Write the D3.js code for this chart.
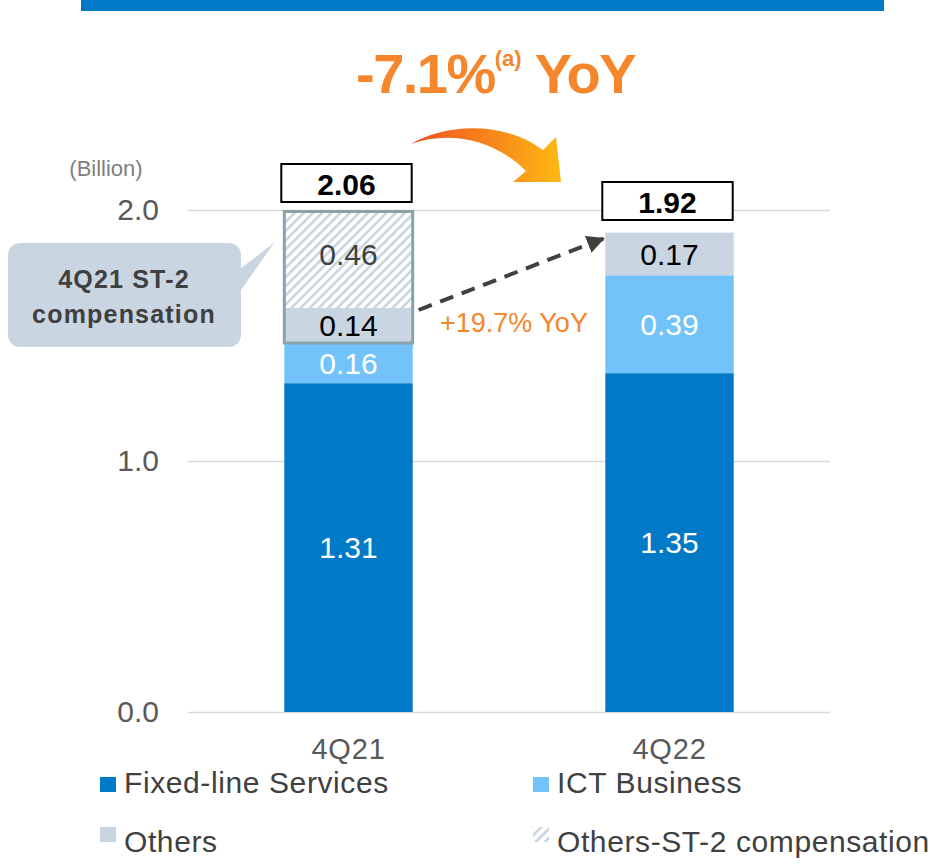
<!DOCTYPE html>
<html>
<head>
<meta charset="utf-8">
<script src="https://cdn.jsdelivr.net/npm/d3@7"></script>
<style>
  body { margin: 0; background: #fff; }
  svg { display: block; }
</style>
</head>
<body>
<div id="chart-area"></div>
<script>
// data
var categories = ["4Q21", "4Q22"]
var fixedLine = [1.31, 1.35]
var ictBusiness = [0.16, 0.39]
var others = [0.14, 0.17]
var othersST2 = [0.46, 0]
var totals = [2.06, 1.92]
var yTicks = [0, 1, 2]
var seriesKeys = ["fixed", "ict", "others", "st2"]
var legendNames = ["Fixed-line Services", "ICT Business", "Others", "Others-ST-2 compensation"]

var font = "'Liberation Sans',Arial,sans-serif"

var colors = {fixed: "#0079c6", ict: "#73c3fb", others: "#c9d5e0", st2: "url(#hatch)"}
var labelColors = {fixed: "#ffffff", ict: "#ffffff", others: "#000000", st2: "#404040"}

var W = 938, H = 864

var svg = d3.select('#chart-area').append('svg')
  .attr('width', W)
  .attr('height', H)
  .attr('font-family', font)

var defs = svg.append('defs')

// hatch for the ST-2 compensation block
var pat = defs.append('pattern')
  .attr('id', 'hatch')
  .attr('patternUnits', 'userSpaceOnUse')
  .attr('width', 6.5)
  .attr('height', 6.5)
  .attr('patternTransform', 'rotate(45)')
pat.append('rect').attr('width', 6.5).attr('height', 6.5).attr('fill', '#ffffff')
pat.append('rect').attr('width', 2.6).attr('height', 6.5).attr('fill', '#c9d5e0')

var grad = defs.append('linearGradient').attr('id', 'arrowGrad')
  .attr('x1', '0%').attr('x2', '100%').attr('y1', '0%').attr('y2', '0%')
grad.append('stop').attr('offset', '0%').attr('stop-color', '#f04e23')
grad.append('stop').attr('offset', '100%').attr('stop-color', '#fdb913')

defs.append('marker')
  .attr('id', 'dashHead')
  .attr('viewBox', '0 0 10 10')
  .attr('refX', 9).attr('refY', 5)
  .attr('markerWidth', 4.5).attr('markerHeight', 4.5)
  .attr('orient', 'auto')
  .append('path').attr('d', 'M0,0 L10,5 L0,10 Z').attr('fill', '#404040')

//scales
var xScale = d3.scaleBand()
  .domain(categories)
  .range([188, 830])
  .paddingInner(0.6)
  .paddingOuter(0.3)

var yScale = d3.scaleLinear()
  .domain([0, 2])
  .range([712, 210])

defs.append('clipPath').attr('id', 'plotClip')
  .append('rect')
  .attr('x', 0).attr('y', yScale(2))
  .attr('width', W).attr('height', yScale(0) - yScale(2))

// top banner
svg.append('rect')
  .attr('x', 81).attr('y', 0)
  .attr('width', 803).attr('height', 11)
  .attr('fill', '#0079c6')

// headline
var title = svg.append('text')
  .attr('x', 356).attr('y', 93)
  .attr('font-weight', 'bold')
  .attr('font-size', '56px')
  .attr('letter-spacing', '-1.5px')
  .attr('fill', '#f5862b')
title.append('tspan').text('-7.1%')
title.append('tspan').attr('font-size', '22px').attr('letter-spacing', '0px').attr('dy', -27).text('(a)')
title.append('tspan').attr('dy', 27).text(' YoY')

// curved orange arrow
svg.append('path')
  .attr('d', 'M411,144 C440,126 500,118 543,150 L556,137 L561,182 L513,182 L526,171 C495,140 450,130 411,144 Z')
  .attr('fill', 'url(#arrowGrad)')

// y axis
svg.append('text')
  .attr('x', 106).attr('y', 176)
  .attr('text-anchor', 'middle')
  .attr('font-size', '22px')
  .attr('fill', '#7f7f7f')
  .text('(Billion)')

var yAxis = d3.axisLeft(yScale)
  .tickValues(yTicks)
  .tickSize(-(830 - 188))
  .tickPadding(29)
  .tickFormat(d3.format('.1f'))

var yg = svg.append('g')
  .attr('transform', 'translate(188,0)')
  .call(yAxis)
yg.select('.domain').remove()
yg.selectAll('.tick line').attr('stroke', '#d9d9d9').attr('stroke-width', 1.5)
yg.selectAll('.tick text')
  .attr('font-family', font)
  .attr('font-size', '30px')
  .attr('fill', '#595959')

// x axis labels
var xAxis = d3.axisBottom(xScale).tickSize(0).tickPadding(0)
var xg = svg.append('g')
  .attr('transform', 'translate(0,' + yScale(0) + ')')
  .call(xAxis)
xg.select('.domain').remove()
xg.selectAll('.tick text')
  .attr('y', 47)
  .attr('dy', 0)
  .attr('font-family', font)
  .attr('font-size', '29px')
  .attr('letter-spacing', '0.8px')
  .attr('fill', '#595959')

// stacked bars
var rows = categories.map(function(c, i) {
  return {cat: c, fixed: fixedLine[i], ict: ictBusiness[i], others: others[i], st2: othersST2[i]}
})
var stacked = d3.stack().keys(seriesKeys)(rows)

var barGroup = svg.append('g').attr('clip-path', 'url(#plotClip)')

stacked.forEach(function(layer) {
  barGroup.selectAll('rect.' + layer.key)
    .data(layer.filter(function(d) { return d[1] > d[0] }))
    .enter()
    .append('rect')
    .attr('class', layer.key)
    .attr('x', function(d) { return xScale(d.data.cat) })
    .attr('y', function(d) { return yScale(d[1]) })
    .attr('width', xScale.bandwidth())
    .attr('height', function(d) { return yScale(d[0]) - yScale(d[1]) })
    .attr('fill', colors[layer.key])
})

// grey frame round the 4Q21 "others" blocks
var fr = stacked[2][0], frTop = stacked[3][0]
barGroup.append('rect')
  .attr('x', xScale(categories[0]))
  .attr('y', yScale(Math.min(frTop[1], 2)) + 1.5)
  .attr('width', xScale.bandwidth())
  .attr('height', yScale(fr[0]) - yScale(Math.min(frTop[1], 2)) - 1.5)
  .attr('fill', 'none')
  .attr('stroke', '#8aa3a6')
  .attr('stroke-width', 3)

// value labels
var labelNudge = {fixed: 0, ict: 0, others: 0, st2: -5}
stacked.forEach(function(layer) {
  svg.selectAll('text.lbl-' + layer.key)
    .data(layer.filter(function(d) { return d[1] > d[0] }))
    .enter()
    .append('text')
    .attr('class', 'lbl-' + layer.key)
    .attr('x', function(d) { return xScale(d.data.cat) + xScale.bandwidth() / 2 })
    .attr('y', function(d) {
      return (yScale(d[0]) + yScale(Math.min(d[1], 2))) / 2 + labelNudge[layer.key]
    })
    .attr('dy', '0.36em')
    .attr('text-anchor', 'middle')
    .attr('font-size', '30px')
    .attr('fill', labelColors[layer.key])
    .text(function(d) { return d3.format('.2f')(d[1] - d[0]) })
})

// total boxes
var totalBoxY = [164, 182]
categories.forEach(function(c, i) {
  var g = svg.append('g')
  g.append('rect')
    .attr('x', xScale(c) - 3)
    .attr('y', totalBoxY[i])
    .attr('width', xScale.bandwidth() + 2)
    .attr('height', 38)
    .attr('fill', '#ffffff')
    .attr('stroke', '#000')
    .attr('stroke-width', 2)
  g.append('text')
    .attr('x', xScale(c) + xScale.bandwidth() / 2 - 2)
    .attr('y', totalBoxY[i] + 20)
    .attr('dy', '0.36em')
    .attr('text-anchor', 'middle')
    .attr('font-weight', 'bold')
    .attr('font-size', '30px')
    .attr('fill', '#000')
    .text(d3.format('.2f')(totals[i]))
})

// callout bubble
svg.append('path')
  .attr('d', 'M241,268 L274,243 L241,290 Z')
  .attr('fill', '#c9d5e0')
svg.append('rect')
  .attr('x', 8).attr('y', 243)
  .attr('width', 233).attr('height', 104)
  .attr('rx', 12)
  .attr('fill', '#c9d5e0')
var callout = svg.append('text')
  .attr('text-anchor', 'middle')
  .attr('font-weight', 'bold')
  .attr('font-size', '25px')
  .attr('letter-spacing', '1.2px')
  .attr('fill', '#404040')
callout.append('tspan').attr('x', 124).attr('y', 288).text('4Q21 ST-2')
callout.append('tspan').attr('x', 124).attr('y', 323).text('compensation')

// dashed growth arrow from 4Q21 others to 4Q22 others
var x0 = xScale(categories[0]) + xScale.bandwidth() + 6
var x1 = xScale(categories[1]) - 2
svg.append('line')
  .attr('x1', x0).attr('y1', 310)
  .attr('x2', x1).attr('y2', yScale(fixedLine[1] + ictBusiness[1] + others[1]) + 6)
  .attr('stroke', '#404040')
  .attr('stroke-width', 4)
  .attr('stroke-dasharray', '14,9')
  .attr('marker-end', 'url(#dashHead)')

svg.append('text')
  .attr('x', 440).attr('y', 332)
  .attr('font-size', '27px')
  .attr('fill', '#f5862b')
  .text('+19.7% YoY')

// legend
var legendPos = [[100, 793], [533, 793], [100, 852], [533, 852]]
var legendFill = [colors.fixed, colors.ict, colors.others, 'url(#hatch)']
legendNames.forEach(function(name, i) {
  var g = svg.append('g').attr('transform', 'translate(' + legendPos[i][0] + ',' + legendPos[i][1] + ')')
  g.append('rect')
    .attr('x', 0).attr('y', i < 2 ? -16 : -25)
    .attr('width', 16).attr('height', 15)
    .attr('fill', legendFill[i])
  g.append('text')
    .attr('x', 24).attr('y', 0)
    .attr('font-size', '30px')
    .attr('letter-spacing', '0.6px')
    .attr('fill', '#404040')
    .text(name)
})
</script>
</body>
</html>
